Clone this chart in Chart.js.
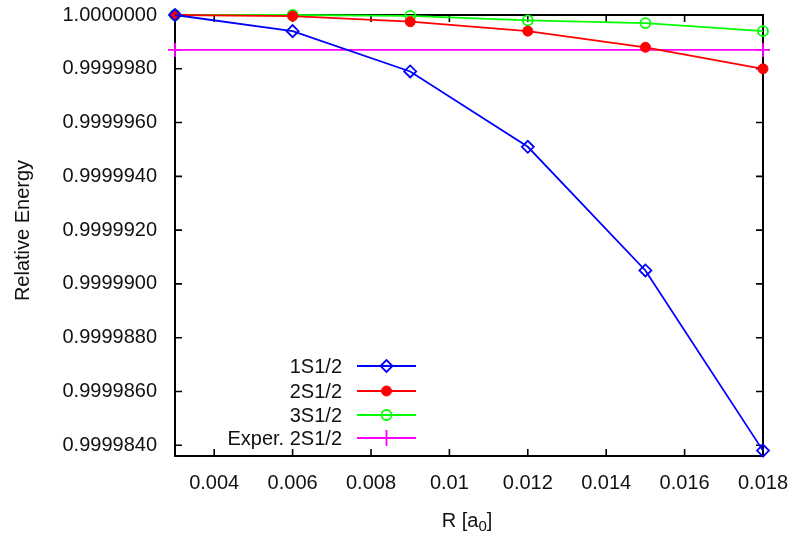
<!DOCTYPE html>
<html>
<head>
<meta charset="utf-8">
<script src="https://cdn.jsdelivr.net/npm/chart.js@4.4.1/dist/chart.umd.min.js"></script>
<style>
  html, body { margin: 0; padding: 0; background: #fff; }
  #wrap { width: 793px; height: 535px; }
</style>
</head>
<body>
<div id="wrap"><canvas id="c" width="793" height="535"></canvas></div>
<script>
// ---- data ----
const rValues = [0.003, 0.006, 0.009, 0.012, 0.015, 0.018];
const s1Values = [1.0000000, 0.9999994, 0.9999979, 0.9999951, 0.9999905, 0.9999838];
const s2Values = [1.0000000, 0.99999996, 0.99999975, 0.9999994, 0.9999988, 0.9999980];
const s3Values = [1.0000000, 1.0000000, 0.99999997, 0.9999998, 0.9999997, 0.9999994];
const experValue = 0.9999987;
const experRange = [0.003, 0.018];
const seriesLabels = ['1S1/2', '2S1/2', '3S1/2', 'Exper. 2S1/2'];
const xTicks = [0.004, 0.006, 0.008, 0.010, 0.012, 0.014, 0.016, 0.018];
const yTicks = [0.9999840, 0.9999860, 0.9999880, 0.9999900, 0.9999920, 0.9999940, 0.9999960, 0.9999980, 1.0000000];
const xTitle = 'R [a';
const xTitleSub = '0';
const xTitleEnd = ']';
const yTitle = 'Relative Energy';

const FONT = '"Liberation Sans", Arial, Helvetica, sans-serif';
const FS = 20;
const pts = (ys) => rValues.map((x, i) => ({ x: x, y: ys[i] }));

const datasets = [
  { label: seriesLabels[0], data: pts(s1Values), borderColor: '#0000ff', backgroundColor: 'rgba(0,0,0,0)',
    pointStyle: 'rectRot', pointRadius: 6, pointBorderWidth: 1.8, borderWidth: 1.8 },
  { label: seriesLabels[1], data: pts(s2Values), borderColor: '#ff0000', backgroundColor: '#ff0000',
    pointStyle: 'circle', pointRadius: 5, pointBorderWidth: 1, borderWidth: 1.8 },
  { label: seriesLabels[2], data: pts(s3Values), borderColor: '#00ff00', backgroundColor: 'rgba(0,0,0,0)',
    pointStyle: 'circle', pointRadius: 5, pointBorderWidth: 1.8, borderWidth: 1.8 },
  { label: seriesLabels[3], data: experRange.map(x => ({ x: x, y: experValue })), borderColor: '#ff00ff', backgroundColor: '#ff00ff',
    pointStyle: 'cross', pointRadius: 7, pointBorderWidth: 1.8, borderWidth: 1.8 }
].map(d => Object.assign(d, { showLine: true, tension: 0, clip: false,
  pointBackgroundColor: d.backgroundColor, pointBorderColor: d.borderColor, pointHoverRadius: d.pointRadius }));

const framePlugin = {
  id: 'frame',
  beforeDatasetsDraw(chart) {
    const { ctx, chartArea: a, scales } = chart;
    ctx.save();
    ctx.strokeStyle = '#000';
    ctx.lineWidth = 1.6;
    const tl = 7;
    ctx.beginPath();
    scales.x.ticks.forEach(t => {
      const px = scales.x.getPixelForValue(t.value);
      ctx.moveTo(px, a.bottom); ctx.lineTo(px, a.bottom - tl);
      ctx.moveTo(px, a.top); ctx.lineTo(px, a.top + tl);
    });
    scales.y.ticks.forEach(t => {
      const py = scales.y.getPixelForValue(t.value);
      ctx.moveTo(a.left, py); ctx.lineTo(a.left + tl, py);
      ctx.moveTo(a.right, py); ctx.lineTo(a.right - tl, py);
    });
    ctx.stroke();
    ctx.lineWidth = 2;
    ctx.strokeRect(a.left, a.top, a.right - a.left, a.bottom - a.top);
    ctx.restore();
  },
  afterDraw(chart) {
    const { ctx, chartArea: a } = chart;
    ctx.save();
    ctx.fillStyle = '#111';
    // y title
    ctx.font = FS + 'px ' + FONT;
    ctx.textAlign = 'center';
    ctx.textBaseline = 'middle';
    ctx.translate(23, (a.top + a.bottom) / 2 - 5);
    ctx.rotate(-Math.PI / 2);
    ctx.fillText(yTitle, 0, 0);
    ctx.restore();

    // x title with subscript
    ctx.save();
    ctx.fillStyle = '#111';
    ctx.textBaseline = 'alphabetic';
    ctx.textAlign = 'left';
    const mainF = FS + 'px ' + FONT, subF = '15px ' + FONT;
    ctx.font = mainF; const w1 = ctx.measureText(xTitle).width; const w3 = ctx.measureText(xTitleEnd).width;
    ctx.font = subF; const w2 = ctx.measureText(xTitleSub).width;
    const cx = (a.left + a.right) / 2 - 2;
    let x0 = cx - (w1 + w2 + w3) / 2;
    const base = 527;
    ctx.font = mainF; ctx.fillText(xTitle, x0, base);
    ctx.font = subF; ctx.fillText(xTitleSub, x0 + w1, base + 4);
    ctx.font = mainF; ctx.fillText(xTitleEnd, x0 + w1 + w2, base);
    ctx.restore();

    // gnuplot-style legend
    ctx.save();
    ctx.font = FS + 'px ' + FONT;
    ctx.textAlign = 'right';
    ctx.textBaseline = 'middle';
    const textRight = 342, lineL = 357, lineR = 416, mark = 386.5;
    const rows = [366, 391, 415, 438];
    chart.data.datasets.forEach((ds, i) => {
      const y = rows[i];
      ctx.fillStyle = '#111';
      ctx.fillText(ds.label, textRight, y + 1);
      ctx.strokeStyle = ds.borderColor;
      ctx.lineWidth = ds.borderWidth;
      ctx.beginPath(); ctx.moveTo(lineL, y); ctx.lineTo(lineR, y); ctx.stroke();
      ctx.fillStyle = ds.pointBackgroundColor;
      ctx.lineWidth = ds.pointBorderWidth;
      Chart.helpers.drawPoint(ctx, { pointStyle: ds.pointStyle, radius: ds.pointStyle === 'cross' ? 8 : ds.pointRadius, rotation: 0, borderWidth: ds.pointBorderWidth }, mark, y);
    });
    ctx.restore();
  }
};

new Chart(document.getElementById('c'), {
  type: 'scatter',
  data: { datasets: datasets },
  plugins: [framePlugin],
  options: {
    responsive: false,
    devicePixelRatio: 1,
    animation: false,
    layout: { padding: { top: 15, right: 30, left: 0, bottom: 0 } },
    plugins: { legend: { display: false }, tooltip: { enabled: false } },
    scales: {
      x: {
        type: 'linear', min: 0.003, max: 0.018,
        afterBuildTicks: s => { s.ticks = xTicks.map(v => ({ value: v })); },
        afterFit: s => { s.height = 79; s.paddingLeft = 0; s.paddingRight = 0; },
        grid: { display: false, drawTicks: false },
        border: { display: false },
        ticks: { autoSkip: false, maxRotation: 0, padding: 15, color: '#111',
          font: { family: FONT, size: FS },
          callback: v => String(Number(v.toFixed(3))) }
      },
      y: {
        type: 'linear', min: 0.9999836, max: 1.0000000,
        afterBuildTicks: s => { s.ticks = yTicks.map(v => ({ value: v })); },
        afterFit: s => { s.width = 175; s.paddingTop = 0; s.paddingBottom = 0; },
        grid: { display: false, drawTicks: false },
        border: { display: false },
        ticks: { autoSkip: false, padding: 18, color: '#111',
          font: { family: FONT, size: FS },
          callback: v => v.toFixed(7) }
      }
    }
  }
});
</script>
</body>
</html>
